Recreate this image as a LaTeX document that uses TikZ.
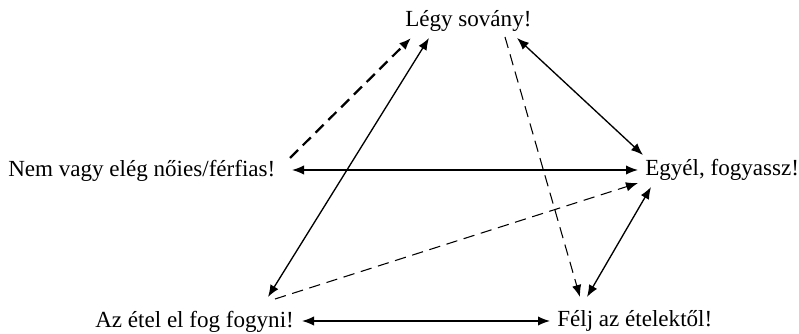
\documentclass[tikz,border=0pt]{standalone}
\usepackage{fontspec}
\setmainfont{Liberation Serif}
\usetikzlibrary{arrows.meta}
\begin{document}
\begin{tikzpicture}[x=0.75pt,y=-0.75pt,
  lbl/.style={anchor=base west,inner sep=0pt,font=\fontsize{17.3}{20}\selectfont},
  tip/.style={},
  solidarr/.style={line width=1pt,{Latex[length=9pt,width=7pt]}-{Latex[length=9pt,width=7pt]}},
  dasharr/.style={line width=0.8pt,dash pattern=on 8.5pt off 5pt,-{Latex[length=9pt,width=7pt]}},
  thickdash/.style={line width=1.7pt,dash pattern=on 8.5pt off 5pt,-{Latex[length=9pt,width=7pt]}}]
\useasboundingbox (0,0) rectangle (799,334);
\node[lbl] (legy) at (405,27) {Légy sovány!};
\node[lbl] (nem) at (8,177) {Nem vagy elég nőies/férfias!};
\node[lbl] (egyel) at (645,176) {Egyél, fogyassz!};
\node[lbl] (etel) at (95,328) {Az étel el fog fogyni!};
\node[lbl] (felj) at (557,327) {Félj az ételektől!};
% connector end points
\coordinate (n1) at (290,158);
\coordinate (l1) at (411,38);
\coordinate (a1) at (268,297);
\coordinate (l2) at (429,38);
\coordinate (l3) at (505,37);
\coordinate (f1) at (580,297);
\coordinate (l4) at (517,38);
\coordinate (e1) at (643,155);
\coordinate (n2) at (292,170);
\coordinate (e2) at (638,170);
\coordinate (a2) at (275,299);
\coordinate (e3) at (638,183);
\coordinate (e4) at (651,187);
\coordinate (f2) at (587,297);
\coordinate (a3) at (302,321);
\coordinate (f3) at (550,321);
\draw[thickdash] (n1) -- (l1);
\draw[solidarr] (a1) -- (l2);
\draw[dasharr] (l3) -- (f1);
\draw[solidarr] (l4) -- (e1);
\draw[solidarr] (n2) -- (e2);
\draw[dasharr] (a2) -- (e3);
\draw[solidarr] (e4) -- (f2);
\draw[solidarr] (a3) -- (f3);
\end{tikzpicture}
\end{document}
